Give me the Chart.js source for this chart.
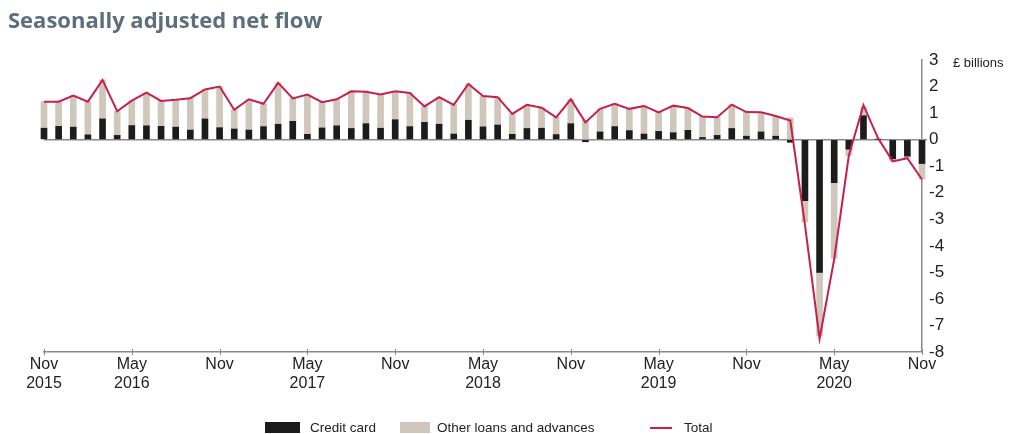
<!DOCTYPE html>
<html>
<head>
<meta charset="utf-8">
<script src="https://cdn.jsdelivr.net/npm/chart.js@4.4.1/dist/chart.umd.min.js"></script>
<style>
  html, body { margin: 0; padding: 0; background: #fff; }
  #wrap { position: relative; width: 1013px; height: 434px; overflow: hidden; }
  #title { position: absolute; left: 8px; top: 4px; font: 700 22px "Open Sans", sans-serif; color: #5d6e7d; }
  #unit { position: absolute; left: 953px; top: 55px; font: 13px "Liberation Sans", sans-serif; color: #222; }
  #chart { position: absolute; left: 0; top: 0; }
  .leg { position: absolute; top: 420px; font: 13.5px "Liberation Sans", sans-serif; color: #222; line-height: 16px; }
  .sw { position: absolute; top: 422px; height: 11px; }
</style>
</head>
<body>
<div id="wrap">
  <canvas id="chart" width="1013" height="434"></canvas>
  <div id="title">Seasonally adjusted net flow</div>
  <div id="unit">£ billions</div>
  <div class="sw" style="left:265px;width:35px;background:#1c1c1c"></div>
  <div class="leg" style="left:310px">Credit card</div>
  <div class="sw" style="left:400px;width:30px;background:#cfc6bc"></div>
  <div class="leg" style="left:437px">Other loans and advances</div>
  <div class="sw" style="left:650px;width:22px;height:2px;top:427px;background:#c4214d"></div>
  <div class="leg" style="left:684px">Total</div>
</div>
<script>
// --- DATA ---
const months = ['Nov', 'Dec', 'Jan', 'Feb', 'Mar', 'Apr', 'May', 'Jun', 'Jul', 'Aug', 'Sep', 'Oct'];
const labels = [];
for (let i = 0; i <= 60; i++) {
  const m = months[i % 12];
  const y = 2015 + Math.floor((i + 10) / 12);
  labels.push(m + ' ' + y);
}

// Credit card, £bn
const creditCard = [
  0.43, 0.50, 0.47, 0.18, 0.78, 0.16, 0.53, 0.52, 0.50, 0.47,
  0.36, 0.78, 0.45, 0.40, 0.36, 0.49, 0.58, 0.69, 0.20, 0.44,
  0.52, 0.42, 0.60, 0.43, 0.75, 0.49, 0.65, 0.58, 0.21, 0.73,
  0.48, 0.55, 0.20, 0.42, 0.43, 0.19, 0.60, -0.08, 0.29, 0.49,
  0.34, 0.21, 0.31, 0.26, 0.35, 0.08, 0.16, 0.42, 0.13, 0.29,
  0.13, -0.10, -2.30, -5.00, -1.62, -0.36, 0.90, 0.00, -0.72, -0.62,
  -0.90
];

// Other loans and advances, £bn
const otherLoans = [
  1.00, 0.93, 1.19, 1.25, 1.47, 0.91, 0.94, 1.25, 0.96, 1.03,
  1.21, 1.11, 1.55, 0.72, 1.16, 0.86, 1.56, 0.86, 1.50, 0.97,
  1.00, 1.40, 1.20, 1.27, 1.07, 1.27, 0.60, 1.02, 1.10, 1.37,
  1.16, 1.05, 0.77, 0.89, 0.77, 0.65, 0.92, 0.73, 0.87, 0.86,
  0.82, 1.07, 0.72, 1.02, 0.84, 0.79, 0.68, 0.90, 0.91, 0.74,
  0.76, 0.82, -0.80, -2.40, -2.85, -0.25, 0.32, 0.05, -0.10, -0.08,
  -0.58
];

// Total net flow, £bn
const total = [
  1.43, 1.43, 1.66, 1.43, 2.25, 1.07, 1.47, 1.77, 1.46, 1.50,
  1.56, 1.89, 2.00, 1.12, 1.52, 1.35, 2.14, 1.55, 1.70, 1.41,
  1.52, 1.82, 1.80, 1.70, 1.82, 1.76, 1.25, 1.60, 1.31, 2.10,
  1.64, 1.60, 0.97, 1.31, 1.20, 0.84, 1.52, 0.65, 1.16, 1.35,
  1.16, 1.27, 1.03, 1.28, 1.19, 0.87, 0.84, 1.32, 1.04, 1.03,
  0.89, 0.72, -3.20, -7.50, -4.50, -0.60, 1.30, 0.05, -0.82, -0.70,
  -1.50
];

const yTicks = [3, 2, 1, 0, -1, -2, -3, -4, -5, -6, -7, -8];

// --- CHART ---
const font = '"Liberation Sans", sans-serif';
const isLabelTick = i => i % 6 === 0;

// little tick marks under the x axis at the labelled months
const xTickMarks = {
  id: 'xTickMarks',
  afterDraw(chart) {
    const x = chart.scales.x, ctx = chart.ctx, yb = chart.chartArea.bottom;
    ctx.save();
    ctx.strokeStyle = '#8a8a8a';
    ctx.lineWidth = 1;
    for (let i = 0; i < labels.length; i += 6) {
      const px = Math.round(x.getPixelForValue(i)) + 0.5;
      ctx.beginPath();
      ctx.moveTo(px, yb - 3);
      ctx.lineTo(px, yb + 3);
      ctx.stroke();
    }
    ctx.restore();
  }
};

new Chart(document.getElementById('chart'), {
  data: {
    labels,
    datasets: [
      {
        type: 'line', label: 'Total', data: total,
        borderColor: '#c4214d', borderWidth: 2, pointRadius: 0, tension: 0,
        clip: false, order: 0
      },
      {
        type: 'bar', label: 'Credit card', data: creditCard,
        backgroundColor: '#1c1c1c', barThickness: 6, clip: false, order: 1
      },
      {
        type: 'bar', label: 'Other loans and advances', data: otherLoans,
        backgroundColor: '#cfc6bc', barThickness: 6, clip: false, order: 2
      }
    ]
  },
  options: {
    responsive: false,
    animation: false,
    layout: { padding: { left: 44, right: 0, top: 60, bottom: 36 } },
    plugins: { legend: { display: false }, tooltip: { enabled: false } },
    scales: {
      x: {
        stacked: true,
        offset: false,
        grid: { display: false, drawTicks: false },
        border: { color: '#8a8a8a', width: 1.5 },
        ticks: {
          autoSkip: false, maxRotation: 0, padding: 3,
          color: '#222', font: { family: font, size: 16 },
          callback: function (v, i) {
            if (!isLabelTick(i)) return null;
            const [m, y] = labels[i].split(' ');
            return (m === 'Nov' && i !== 0) ? m : [m, y];
          }
        },
        afterFit: a => { a.height = 46; }
      },
      y: {
        stacked: true,
        position: 'right',
        min: -8, max: 3,
        afterBuildTicks: a => { a.ticks = yTicks.map(v => ({ value: v })); },
        grid: {
          drawOnChartArea: true,
          color: c => c.tick && c.tick.value === 0 ? '#8a8a8a' : 'rgba(0,0,0,0)',
          lineWidth: c => c.tick && c.tick.value === 0 ? 1.5 : 0,
          tickColor: '#8a8a8a', tickLength: 5
        },
        border: { color: '#8a8a8a', width: 1.5 },
        ticks: { padding: 2, color: '#222', font: { family: font, size: 17 } },
        afterFit: a => { a.width = 91; }
      }
    }
  },
  plugins: [xTickMarks]
});
</script>
</body>
</html>
